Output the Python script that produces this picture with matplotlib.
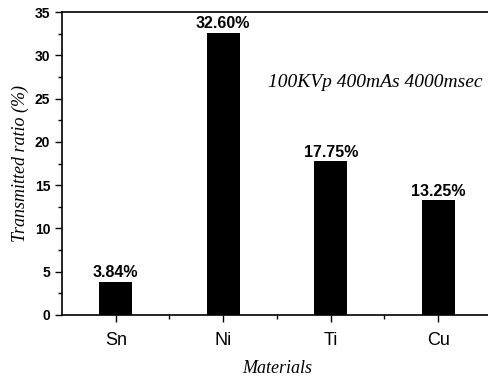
import matplotlib
matplotlib.use('Agg')
import matplotlib.pyplot as plt
from matplotlib.ticker import MultipleLocator

materials = ['Sn', 'Ni', 'Ti', 'Cu']
ratios = [3.84, 32.60, 17.75, 13.25]
labels = ['3.84%', '32.60%', '17.75%', '13.25%']

fig = plt.figure(figsize=(4.89, 3.78), dpi=100)
ax = fig.add_axes([62/489, 1 - 315/378, 430/489, 303/378])

x = range(len(materials))
ax.bar(x, ratios, width=0.31, color='black')
for i, v in enumerate(ratios):
    ax.text(i, v + 0.15, labels[i], ha='center', va='bottom',
            family='Liberation Sans', fontsize=11.5, fontweight='bold')

ax.set_xlim(-0.5, 3.5)
ax.set_ylim(0, 35)
ax.set_xticks(list(x))
ax.set_xticklabels(materials, family='Liberation Sans', fontsize=13)
ax.set_xticks([0.5, 1.5, 2.5], minor=True)
ax.yaxis.set_major_locator(MultipleLocator(5))
ax.yaxis.set_minor_locator(MultipleLocator(2.5))
for t in ax.get_yticklabels():
    t.set_family('Liberation Sans')
    t.set_fontweight('bold')
    t.set_fontsize(10)
ax.tick_params(direction='out', length=5, width=1)
ax.tick_params(axis='x', pad=7)
ax.tick_params(which='minor', direction='out', length=3, width=1)
for s in ax.spines.values():
    s.set_linewidth(1.2)

ax.set_ylabel('Transmitted ratio (%)', family='Liberation Serif', style='italic',
              fontsize=13, labelpad=4)
ax.set_xlabel('Materials', family='Liberation Serif', style='italic',
              fontsize=13, labelpad=8)
ax.text(0.728, 0.766, '100KVp 400mAs 4000msec', transform=ax.transAxes,
        ha='center', va='center', family='Liberation Serif', style='italic', fontsize=14)

fig.savefig('out.png', dpi=100)
